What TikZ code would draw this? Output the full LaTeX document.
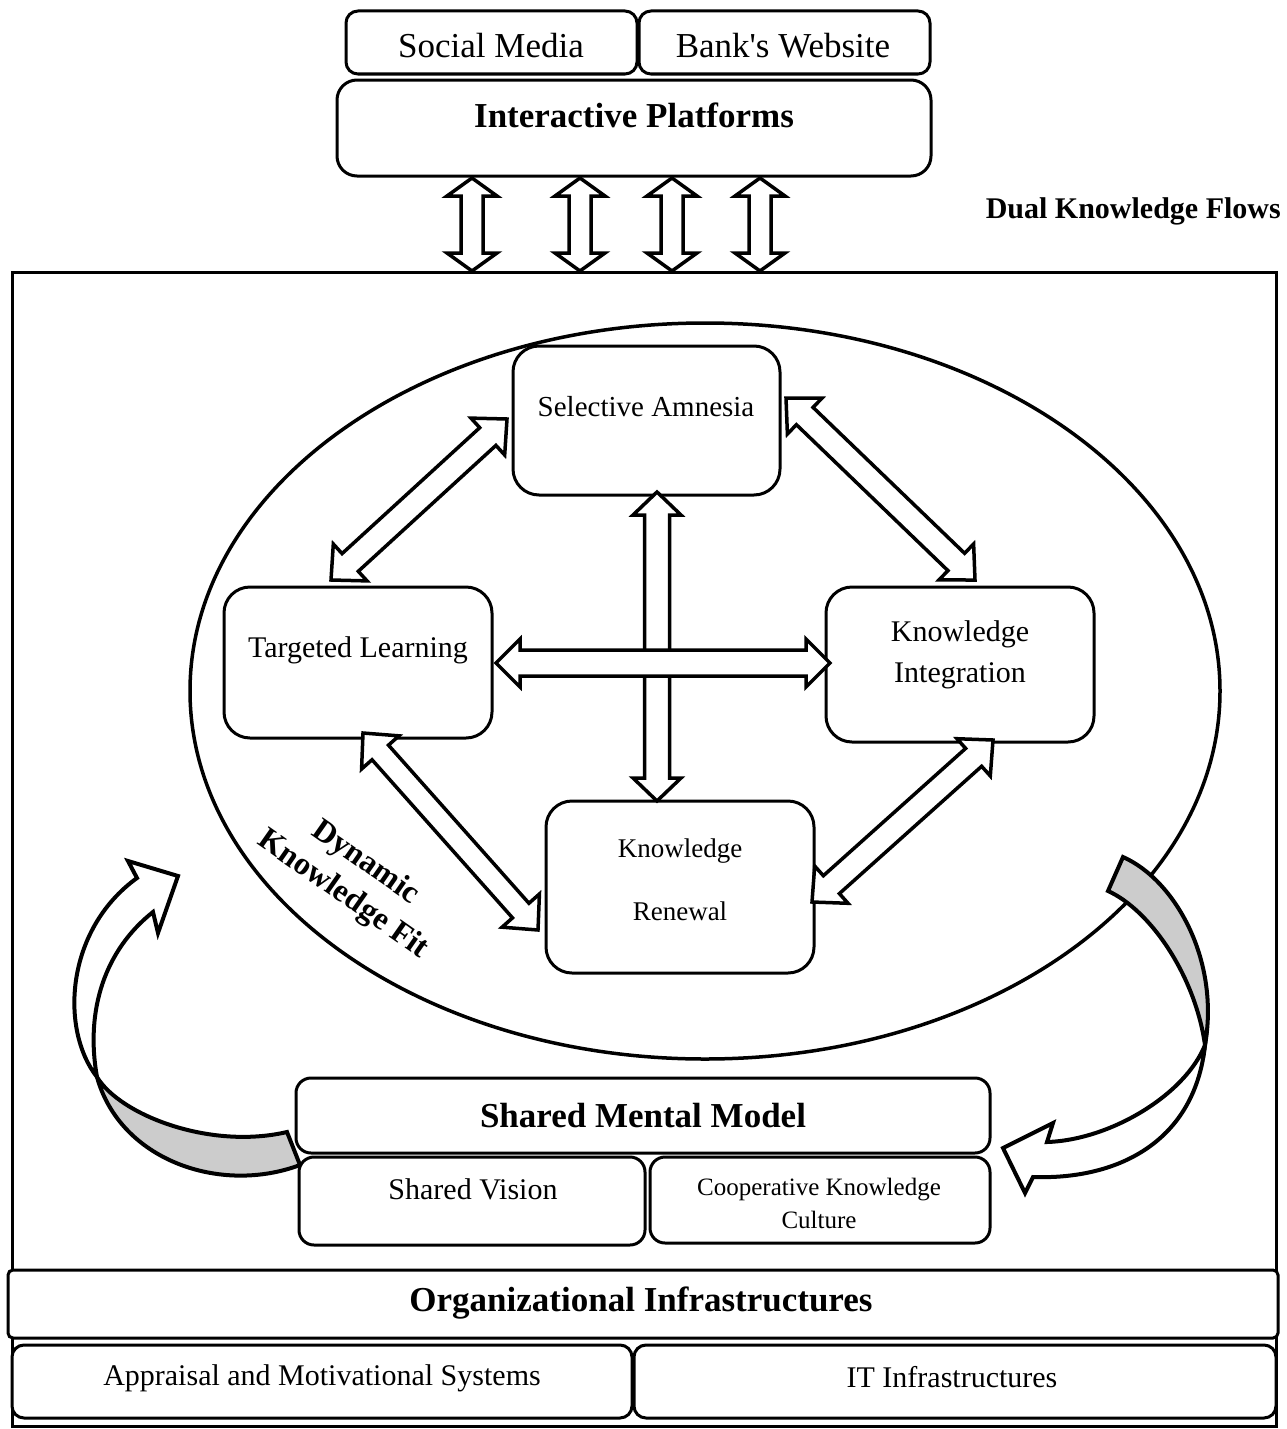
\documentclass[tikz,border=0pt]{standalone}
\usepackage{fontspec}
\setmainfont{Liberation Serif}
\usetikzlibrary{calc,shapes.geometric}
\newcommand{\dblarr}[5]{%
  \path ($(#1)!#5!(#2)$) coordinate (dA) ($(#2)!#5!(#1)$) coordinate (dB);
  \draw[hollowarrow] (#1) -- ($(dA)!#4!90:(#2)$) -- ($(dA)!#3!90:(#2)$)
    -- ($(dB)!#3!-90:(#1)$) -- ($(dB)!#4!-90:(#1)$) -- (#2)
    -- ($(dB)!#4!90:(#1)$) -- ($(dB)!#3!90:(#1)$)
    -- ($(dA)!#3!-90:(#2)$) -- ($(dA)!#4!-90:(#2)$) -- cycle;}
\begin{document}
\begin{tikzpicture}[x=1pt,y=-1pt,
  box/.style={draw, line width=3pt, fill=white, rounded corners=#1, inner sep=0pt},
  box/.default=14pt,
  hollowarrow/.style={draw, fill=white, line width=3.5pt, line join=miter},
  curvearrow/.style={draw, line width=4pt, line join=miter},
  txt/.style={inner sep=0pt, align=center},
  big/.style={font=\fontsize{35}{42}\selectfont},
  bigb/.style={font=\fontsize{35}{42}\selectfont\bfseries},
  mid/.style={font=\fontsize{30}{41}\selectfont}]
\useasboundingbox (0,0) rectangle (1286,1429);

% outer frame
\node[draw, line width=3pt, inner sep=0pt, minimum width=1264pt, minimum height=1154pt] (frame) at (644,849) {};

% ellipse
\node[draw, ellipse, line width=3.5pt, minimum width=1030pt, minimum height=736pt, inner sep=0pt] (ell) at (705,691) {};

% top boxes
\node[box=12pt, minimum width=291pt, minimum height=63pt] (sm) at (491.5,42.5) {};
\node[box=12pt, minimum width=291pt, minimum height=63pt] (bw) at (784.5,42.5) {};
\node[box=20pt, minimum width=594pt, minimum height=96pt] (ip) at (634,128) {};
\node[txt, big] (smt) at (491,46) {Social Media};
\node[txt, big] (bwt) at (783,46) {Bank\textquotesingle s Website};
\node[txt, bigb] (ipt) at (634,115) {Interactive Platforms};
\node[txt, anchor=east, font=\fontsize{30}{36}\selectfont\bfseries] (dkf) at (1281,211) {Dual Knowledge Flows};

% top double arrows
\foreach \i/\xx in {1/472,2/580,3/672,4/760}{
  \coordinate (ta\i) at (\xx,178);
  \coordinate (tb\i) at (\xx,271);
  \dblarr{ta\i}{tb\i}{11pt}{25pt}{18pt}
}

% inner boxes
\node[box=26pt, minimum width=267pt, minimum height=149pt] (sa) at (646.5,420.5) {};
\node[box=26pt, minimum width=268pt, minimum height=151pt] (tl) at (358,662.5) {};
\node[box=26pt, minimum width=268pt, minimum height=155pt] (ki) at (960,664.5) {};
\node[box=26pt, minimum width=268pt, minimum height=172pt] (kr) at (680,887) {};
\node[txt, font=\fontsize{29}{35}\selectfont] (sat) at (646,407) {Selective Amnesia};
\node[txt, mid] (tlt) at (358,650) {Targeted Learning};
\node[txt, mid] (kit) at (960,655) {Knowledge\\Integration};
\node[txt, font=\fontsize{27}{63}\selectfont] (krt) at (680,880) {Knowledge\\Renewal};

% inner double arrows
\coordinate (a1s) at (507,419);  \coordinate (a1e) at (331,580);
\coordinate (a2s) at (786,398);  \coordinate (a2e) at (975,580);
\coordinate (a3s) at (657,492);  \coordinate (a3e) at (657,801);
\coordinate (a4s) at (496,663);  \coordinate (a4e) at (830,663);
\coordinate (a5s) at (363,733);  \coordinate (a5e) at (538,930);
\coordinate (a6s) at (993,740);  \coordinate (a6e) at (812,902);
\dblarr{a1s}{a1e}{12pt}{25pt}{26pt}
\dblarr{a2s}{a2e}{12pt}{25pt}{26pt}
\dblarr{a3s}{a3e}{12.5pt}{24pt}{23pt}
\dblarr{a4s}{a4e}{13pt}{24pt}{24pt}
\dblarr{a5s}{a5e}{11pt}{25pt}{26pt}
\dblarr{a6s}{a6e}{12pt}{25pt}{26pt}

% Dynamic Knowledge Fit
\node[txt, rotate=-35, font=\fontsize{32}{39}\selectfont\bfseries] (dyn) at (354,879) {Dynamic\\Knowledge Fit};

% curved arrows
\path[curvearrow, fill=black!20] (97,1077) .. controls (120,1115) and (210,1150) .. (287,1132) -- (300,1165) .. controls (220,1195) and (120,1160) .. (97,1077) -- cycle;
\path[curvearrow, fill=white] (97,1077) .. controls (60,1030) and (65,930) .. (137,878) -- (128,861) -- (178,876) -- (158,933) -- (153,912) .. controls (105,950) and (85,1010) .. (97,1077) -- cycle;
\path[curvearrow, fill=black!20] (1123,857) .. controls (1175,880) and (1220,960) .. (1205,1045) .. controls (1195,975) and (1150,910) .. (1108,891) -- cycle;
\path[curvearrow, fill=white] (1205,1045) .. controls (1195,1140) and (1120,1180) .. (1033,1177) -- (1025,1193) -- (1003,1148) -- (1053,1123) -- (1047,1142) .. controls (1110,1140) and (1185,1095) .. (1205,1045) -- cycle;

% shared mental model
\node[box=15pt, minimum width=694pt, minimum height=75pt] (smm) at (643,1115.5) {};
\node[box=15pt, minimum width=346pt, minimum height=88pt] (sv) at (472,1201) {};
\node[box=15pt, minimum width=340pt, minimum height=86pt] (ckc) at (820,1200) {};
\node[txt, bigb] (smmt) at (643,1116) {Shared Mental Model};
\node[txt, mid] (svt) at (473,1189) {Shared Vision};
\node[txt, font=\fontsize{25}{33}\selectfont] (ckct) at (819,1203) {Cooperative Knowledge\\Culture};

% organizational infrastructures
\node[box=5pt, minimum width=1270pt, minimum height=68pt] (oi) at (643,1304) {};
\node[box=12pt, minimum width=620pt, minimum height=73pt] (ams) at (322,1381.5) {};
\node[box=12pt, minimum width=642pt, minimum height=73pt] (iti) at (955,1381.5) {};
\node[txt, bigb] (oit) at (641,1303) {Organizational Infrastructures};
\node[txt, mid] (amst) at (322,1378) {Appraisal and Motivational Systems};
\node[txt, mid] (itit) at (952,1377) {IT Infrastructures};
\end{tikzpicture}
\end{document}
